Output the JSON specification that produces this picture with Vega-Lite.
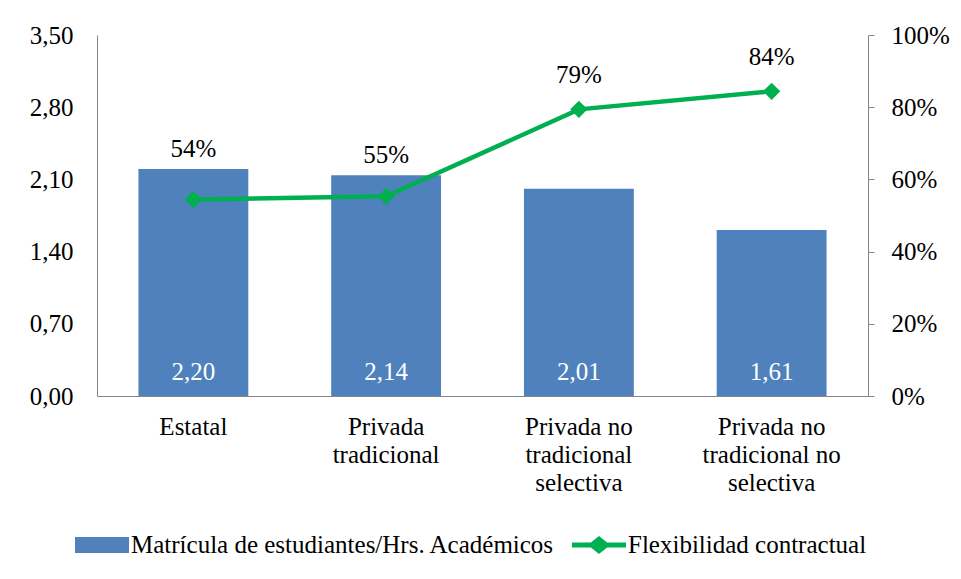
{
  "$schema": "https://vega.github.io/schema/vega-lite/v6.json",
  "width": 771,
  "height": 361,
  "autosize": {"type": "none"},
  "padding": {"left": 97, "top": 35, "right": 93, "bottom": 183},
  "background": "white",
  "config": {
    "view": {"stroke": null},
    "locale": {"number": {"decimal": ",", "thousands": ".", "grouping": [3], "currency": ["$", ""]}},
    "font": "Times New Roman, Liberation Serif, DejaVu Serif, serif",
    "text": {"font": "Times New Roman, Liberation Serif, DejaVu Serif, serif"},
    "axis": {"labelFont": "Times New Roman, Liberation Serif, DejaVu Serif, serif", "labelFontSize": 25, "labelColor": "black", "domainColor": "#868686", "tickColor": "#868686", "grid": false, "title": null},
    "legend": {"labelFont": "Times New Roman, Liberation Serif, DejaVu Serif, serif"}
  },
  "data": {"values": [
    {"cat": "Estatal", "ratio": 2.20, "flex": 0.544},
    {"cat": "Privada tradicional", "ratio": 2.14, "flex": 0.553},
    {"cat": "Privada no tradicional selectiva", "ratio": 2.01, "flex": 0.794},
    {"cat": "Privada no tradicional no selectiva", "ratio": 1.61, "flex": 0.844}
  ]},
  "encoding": {
    "x": {
      "field": "cat", "type": "nominal", "sort": null,
      "scale": {"paddingInner": 0.43, "paddingOuter": 0.215},
      "axis": {
        "labelAngle": 0, "ticks": false, "labelPadding": 18, "labelLineHeight": 28, "labelLimit": 0,
        "labelExpr": "datum.label == 'Privada tradicional' ? ['Privada', 'tradicional'] : datum.label == 'Privada no tradicional selectiva' ? ['Privada no', 'tradicional', 'selectiva'] : datum.label == 'Privada no tradicional no selectiva' ? ['Privada no', 'tradicional no', 'selectiva'] : datum.label"
      }
    }
  },
  "layer": [
    {
      "encoding": {
        "y": {
          "field": "ratio", "type": "quantitative",
          "scale": {"domain": [0, 3.5], "nice": false, "zero": true},
          "axis": {"orient": "left", "values": [0, 0.7, 1.4, 2.1, 2.8, 3.5], "format": ".2f", "ticks": false, "labelPadding": 24}
        }
      },
      "layer": [
        {
          "mark": {"type": "bar", "color": "#4F81BD"},
          "encoding": {
            "color": {
              "datum": "Matrícula de estudiantes/Hrs. Académicos",
              "type": "nominal",
              "scale": {"domain": ["Matrícula de estudiantes/Hrs. Académicos", "Flexibilidad contractual"], "range": ["#4F81BD", "#00B050"]},
              "legend": {
                "title": null, "orient": "none", "legendX": -22, "legendY": 483, "direction": "horizontal",
                "labelFontSize": 25, "labelColor": "black", "labelLimit": 0,
                "labelOffset": 2, "columnPadding": 17, "symbolSize": 2916,
                "encode": {"symbols": {"update": {
                  "shape": {"signal": "datum.value === 'Flexibilidad contractual' ? 'M-1,-0.09H-0.3L0,-0.33L0.3,-0.09H1V0.09H0.3L0,0.33L-0.3,0.09H-1Z' : 'M-1,-0.3H1V0.3H-1Z'"},
                  "fill": {"signal": "datum.value === 'Flexibilidad contractual' ? '#00B050' : '#4F81BD'"},
                  "stroke": {"value": "transparent"},
                  "strokeWidth": {"value": 0},
                  "opacity": {"value": 1},
                  "fillOpacity": {"value": 1}
                }}}
              }
            }
          }
        },
        {
          "mark": {"type": "text", "color": "white", "fontSize": 25, "baseline": "middle", "dy": -24},
          "encoding": {"y": {"datum": 0, "type": "quantitative"}, "text": {"field": "ratio", "type": "quantitative", "format": ".2f"}}
        },
        {
          "transform": [{"filter": "datum.cat == 'Estatal' || datum.cat == 'Privada tradicional'"}],
          "mark": {"type": "text", "color": "black", "fontSize": 25, "baseline": "middle", "dy": -20},
          "encoding": {"text": {"field": "flex", "type": "quantitative", "format": ".0%"}}
        }
      ]
    },
    {
      "encoding": {
        "y": {
          "field": "flex", "type": "quantitative",
          "scale": {"domain": [0, 1], "nice": false},
          "axis": {"orient": "right", "values": [0, 0.2, 0.4, 0.6, 0.8, 1], "format": ".0%", "ticks": true, "tickSize": 6, "labelPadding": 17}
        }
      },
      "layer": [
        {
          "mark": {"type": "line", "strokeWidth": 4.5},
          "encoding": {"color": {"datum": "Flexibilidad contractual", "type": "nominal"}}
        },
        {
          "mark": {"type": "point", "shape": "diamond", "filled": true, "size": 300, "opacity": 1},
          "encoding": {"color": {"datum": "Flexibilidad contractual", "type": "nominal"}}
        },
        {
          "transform": [{"filter": "datum.cat != 'Estatal' && datum.cat != 'Privada tradicional'"}],
          "mark": {"type": "text", "color": "black", "fontSize": 25, "baseline": "middle", "dy": -34},
          "encoding": {"text": {"field": "flex", "type": "quantitative", "format": ".0%"}}
        }
      ]
    }
  ],
  "resolve": {"scale": {"y": "independent"}}
}
